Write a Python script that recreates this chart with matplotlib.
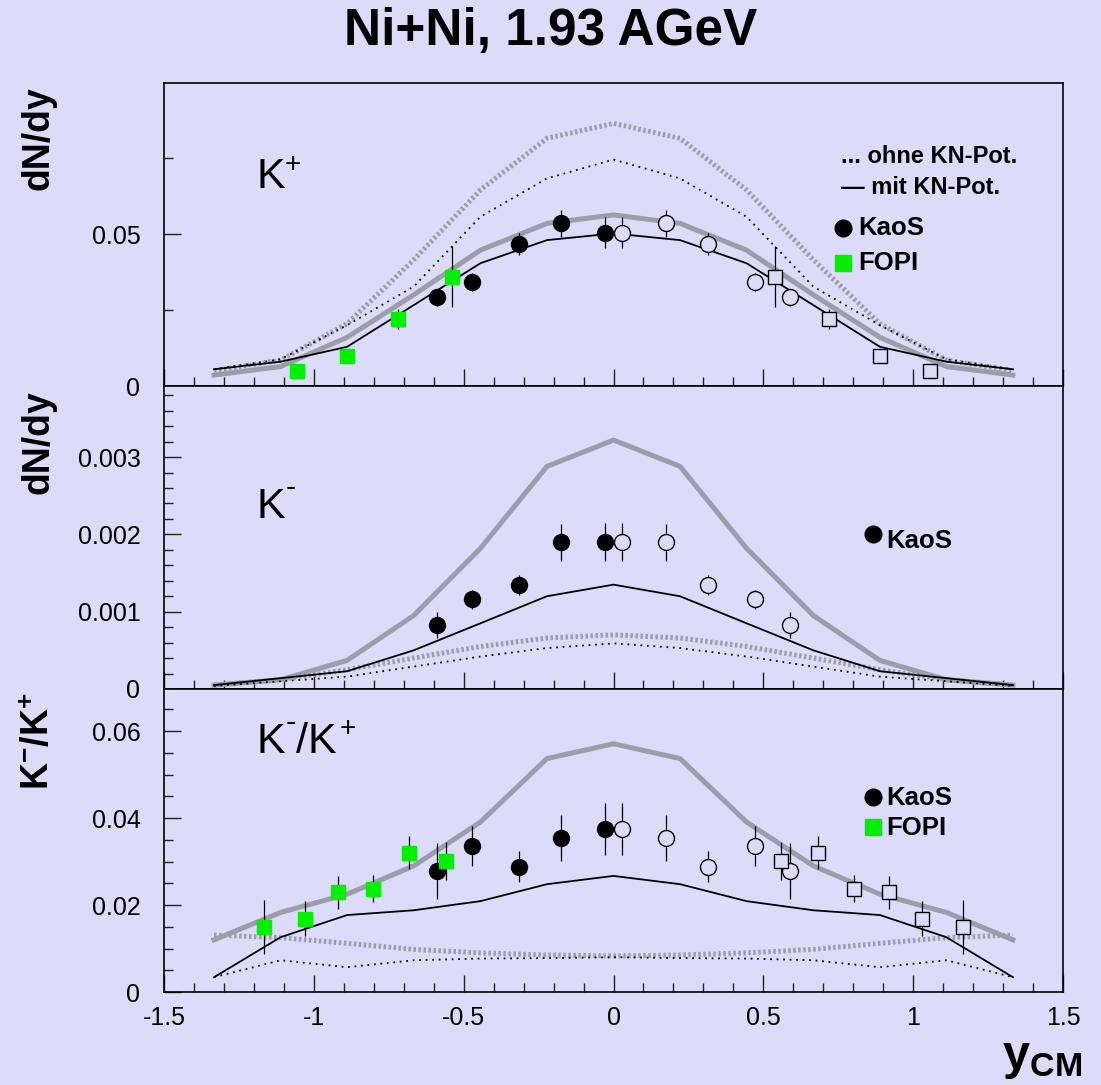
import matplotlib
matplotlib.use("Agg")
import matplotlib.pyplot as plt
from matplotlib.ticker import MultipleLocator, FixedLocator

plt.rcParams['font.family'] = ['Liberation Sans', 'DejaVu Sans']
plt.rcParams['mathtext.fontset'] = 'custom'
plt.rcParams['mathtext.rm'] = 'Liberation Sans'
plt.rcParams['mathtext.it'] = 'Liberation Sans:italic'
plt.rcParams['mathtext.bf'] = 'Liberation Sans:bold'

BG = '#dcdcfa'
GRAY = '#9c9caa'
GREEN = '#00f000'

# ---------------- data ----------------
# model grid (rapidity)
y_model = [-1.333, -1.111, -0.889, -0.667, -0.444, -0.222, 0.0,
           0.222, 0.444, 0.667, 0.889, 1.111, 1.333]

# K+ dN/dy models
kp_gray_mit = [0.0036, 0.0064, 0.0160, 0.0300, 0.0447, 0.0535, 0.0563,
               0.0535, 0.0447, 0.0300, 0.0160, 0.0064, 0.0036]
kp_black_mit = [0.0055, 0.0080, 0.0129, 0.0266, 0.0404, 0.0480, 0.0502,
                0.0480, 0.0404, 0.0266, 0.0129, 0.0080, 0.0055]
kp_gray_ohne = [0.0050, 0.0085, 0.0205, 0.0415, 0.0645, 0.0815, 0.0864,
                0.0815, 0.0645, 0.0415, 0.0205, 0.0085, 0.0050]
kp_black_ohne = [0.0055, 0.0088, 0.0200, 0.0327, 0.0557, 0.0683, 0.0745,
                 0.0683, 0.0557, 0.0327, 0.0200, 0.0088, 0.0055]

# K- dN/dy models
km_gray_mit = [0.00005, 0.00012, 0.00037, 0.00095, 0.00182, 0.00288, 0.00322,
               0.00288, 0.00182, 0.00095, 0.00037, 0.00012, 0.00005]
km_black_mit = [0.00005, 0.00014, 0.00023, 0.00050, 0.00085, 0.00120, 0.00135,
                0.00120, 0.00085, 0.00050, 0.00023, 0.00014, 0.00005]
km_gray_ohne = [0.00005, 0.00012, 0.00025, 0.00040, 0.00055, 0.00066, 0.00070,
                0.00066, 0.00055, 0.00040, 0.00025, 0.00012, 0.00005]
km_black_ohne = [0.00004, 0.00010, 0.00016, 0.00029, 0.00042, 0.00053, 0.00059,
                 0.00053, 0.00042, 0.00029, 0.00016, 0.00010, 0.00004]

# K-/K+ ratio models
r_gray_mit = [0.0120, 0.0183, 0.0225, 0.0290, 0.0391, 0.0537, 0.0571,
              0.0537, 0.0391, 0.0290, 0.0225, 0.0183, 0.0120]
r_black_mit = [0.0034, 0.0126, 0.0177, 0.0188, 0.0209, 0.0248, 0.0267,
               0.0248, 0.0209, 0.0188, 0.0177, 0.0126, 0.0034]
r_gray_ohne = [0.0131, 0.0125, 0.0112, 0.0098, 0.0090, 0.0085, 0.0083,
               0.0085, 0.0090, 0.0098, 0.0112, 0.0125, 0.0131]
r_black_ohne = [0.0034, 0.0073, 0.0057, 0.0073, 0.0077, 0.0078, 0.0080,
                0.0078, 0.0077, 0.0073, 0.0057, 0.0073, 0.0034]

# KaoS data (filled = measured, open = reflected)
kaos_y = [-0.590, -0.473, -0.314, -0.176, -0.028]
kaos_y_refl = [0.590, 0.473, 0.314, 0.176, 0.028]
kaos_kp = [0.0292, 0.0343, 0.0467, 0.0535, 0.0505]
kaos_kp_err = [0.0028, 0.0030, 0.0035, 0.0044, 0.0050]
kaos_km = [0.00083, 0.00116, 0.00135, 0.00190, 0.00190]
kaos_km_err = [0.00017, 0.00012, 0.00013, 0.00024, 0.00025]
kaos_ratio = [0.0278, 0.0336, 0.0288, 0.0355, 0.0375]
kaos_ratio_err = [0.0065, 0.0047, 0.0036, 0.0053, 0.0060]

# FOPI data
fopi_kp_y = [-1.057, -0.889, -0.718, -0.540]
fopi_kp_y_refl = [1.057, 0.889, 0.718, 0.540]
fopi_kp = [0.0050, 0.0099, 0.0220, 0.0360]
fopi_kp_err = [0.0010, 0.0010, 0.0034, 0.0100]
fopi_r_y = [-1.166, -1.029, -0.918, -0.804, -0.681, -0.558]
fopi_r_y_refl = [1.166, 1.029, 0.918, 0.804, 0.681, 0.558]
fopi_ratio = [0.0150, 0.0169, 0.0229, 0.0238, 0.0320, 0.0301]
fopi_ratio_err = [0.0062, 0.0040, 0.0038, 0.0030, 0.0038, 0.0044]

# ---------------- figure ----------------
W, H = 1101, 1085
fig = plt.figure(figsize=(W / 100, H / 100), dpi=100, facecolor=BG)

left = 164 / W
width = (1063 - 164) / W
ph = 303 / H
ax_top = fig.add_axes([left, (H - 386) / H, width, ph])
ax_mid = fig.add_axes([left, (H - 689) / H, width, ph])
ax_bot = fig.add_axes([left, (H - 992) / H, width, ph])


def style_axis(ax, ylim, ymaj, ymin, ylabels, show_x):
    ax.set_facecolor(BG)
    ax.set_xlim(-1.5, 1.5)
    ax.set_ylim(*ylim)
    ax.xaxis.set_major_locator(MultipleLocator(0.5))
    ax.xaxis.set_minor_locator(MultipleLocator(0.1))
    ax.yaxis.set_major_locator(FixedLocator(ymaj))
    ax.yaxis.set_minor_locator(MultipleLocator(ymin))
    ax.set_yticklabels(ylabels)
    ax.tick_params(which='both', direction='in', top=False, right=False,
                   width=1.0, color='#202020')
    ax.tick_params(which='major', length=12.5)
    ax.tick_params(which='minor', length=6.5)
    ax.tick_params(axis='y', pad=17, labelsize=18)
    ax.tick_params(axis='x', pad=10, labelsize=18)
    if show_x:
        ax.set_xticks([-1.5, -1, -0.5, 0, 0.5, 1, 1.5])
        ax.set_xticklabels(['-1.5', '-1', '-0.5', '0', '0.5', '1', '1.5'])
    else:
        ax.tick_params(axis='x', labelbottom=False)
    for s in ax.spines.values():
        s.set_linewidth(1.2)
        s.set_color('black')


def models(ax, gm, bm, go, bo):
    ax.plot(y_model, go, color=GRAY, lw=3.6, ls=(0, (0.5, 0.5)), zorder=2,
            solid_capstyle='butt', dash_capstyle='butt')
    ax.plot(y_model, gm, color=GRAY, lw=3.6, zorder=2)
    ax.plot(y_model, bo, color='black', lw=1.3, ls=(0, (1.0, 2.6)), zorder=3)
    ax.plot(y_model, bm, color='black', lw=1.3, zorder=3)


def points(ax, x, y, err, marker, filled, color='black', ms=11.5):
    fc = color if filled else BG
    ec = color if filled else 'black'
    ax.errorbar(x, y, yerr=err, fmt=marker, ms=ms, mfc=fc, mec=ec,
                mew=1.0, ecolor='black', elinewidth=0.9, capsize=0, zorder=5)


# --- top: K+ ---
style_axis(ax_top, (0, 0.0997), [0, 0.05], 0.025, ['0', '0.05'], False)
models(ax_top, kp_gray_mit, kp_black_mit, kp_gray_ohne, kp_black_ohne)
points(ax_top, kaos_y, kaos_kp, kaos_kp_err, 'o', True)
points(ax_top, kaos_y_refl, kaos_kp, kaos_kp_err, 'o', False)
points(ax_top, fopi_kp_y, fopi_kp, fopi_kp_err, 's', True, GREEN, 10.5)
points(ax_top, fopi_kp_y_refl, fopi_kp, fopi_kp_err, 's', False, 'black', 10.5)

# --- middle: K- ---
style_axis(ax_mid, (0, 0.00392), [0, 0.001, 0.002, 0.003], 0.0002,
           ['0', '0.001', '0.002', '0.003'], False)
models(ax_mid, km_gray_mit, km_black_mit, km_gray_ohne, km_black_ohne)
points(ax_mid, kaos_y, kaos_km, kaos_km_err, 'o', True)
points(ax_mid, kaos_y_refl, kaos_km, kaos_km_err, 'o', False)

# --- bottom: ratio ---
style_axis(ax_bot, (0, 0.0697), [0, 0.02, 0.04, 0.06], 0.005,
           ['0', '0.02', '0.04', '0.06'], True)
models(ax_bot, r_gray_mit, r_black_mit, r_gray_ohne, r_black_ohne)
points(ax_bot, kaos_y, kaos_ratio, kaos_ratio_err, 'o', True)
points(ax_bot, kaos_y_refl, kaos_ratio, kaos_ratio_err, 'o', False)
points(ax_bot, fopi_r_y, fopi_ratio, fopi_ratio_err, 's', True, GREEN, 10.5)
points(ax_bot, fopi_r_y_refl, fopi_ratio, fopi_ratio_err, 's', False, 'black', 10.5)

# ---------------- texts ----------------
def fx(px):
    return px / W


def fy(py):
    return 1 - py / H


def t(px, py, s, **kw):
    kw.setdefault('ha', 'left')
    kw.setdefault('va', 'baseline')
    fig.text(fx(px), fy(py), s, **kw)


t(550.5, 45, 'Ni+Ni, 1.93 AGeV', ha='center', fontsize=37, fontweight='bold')

fig.text(fx(57), fy(86), 'dN/dy', rotation=90, ha='right', va='top',
         fontsize=27, fontweight='bold')
fig.text(fx(57), fy(390), 'dN/dy', rotation=90, ha='right', va='top',
         fontsize=27, fontweight='bold')
fig.text(fx(57), fy(692), r'$\mathbf{K^{-}/K^{+}}$', rotation=90, ha='right',
         va='top', fontsize=27)

t(1082, 1069, r'$\mathbf{y}_{\mathbf{CM}}$', ha='right', fontsize=35)

# panel labels, built from pieces: K, small sign raised
t(256, 188, 'K', fontsize=31)
t(285, 172, '+', fontsize=20)
t(256, 518, 'K', fontsize=31)
t(286, 496, '-', fontsize=22)
t(256, 753, 'K', fontsize=31)
t(286, 731, '-', fontsize=22)
t(296, 753, '/K', fontsize=31)
t(340, 736, '+', fontsize=20)

# legends (top panel)
t(841, 163, '... ohne KN-Pot.', fontsize=17, fontweight='bold')
t(841, 194, '\u2014 mit KN-Pot.', fontsize=17, fontweight='bold')


def legend_marker(px, py, marker, color, ms):
    fig.add_artist(plt.Line2D([fx(px)], [fy(py)], marker=marker, ms=ms,
                              mfc=color, mec=color, ls='none',
                              transform=fig.transFigure))


legend_marker(843, 228, 'o', 'black', 12)
t(858, 235, 'KaoS', fontsize=18.5, fontweight='bold')
legend_marker(843, 263, 's', GREEN, 11.5)
t(858, 270, 'FOPI', fontsize=18.5, fontweight='bold')

# middle legend
legend_marker(873, 534, 'o', 'black', 12)
t(886, 548, 'KaoS', fontsize=18.5, fontweight='bold')

# bottom legend
legend_marker(873, 797, 'o', 'black', 12)
t(886, 805, 'KaoS', fontsize=18.5, fontweight='bold')
legend_marker(873, 827, 's', GREEN, 11.5)
t(886, 835, 'FOPI', fontsize=18.5, fontweight='bold')

fig.savefig('out.png', dpi=100, facecolor=BG)
